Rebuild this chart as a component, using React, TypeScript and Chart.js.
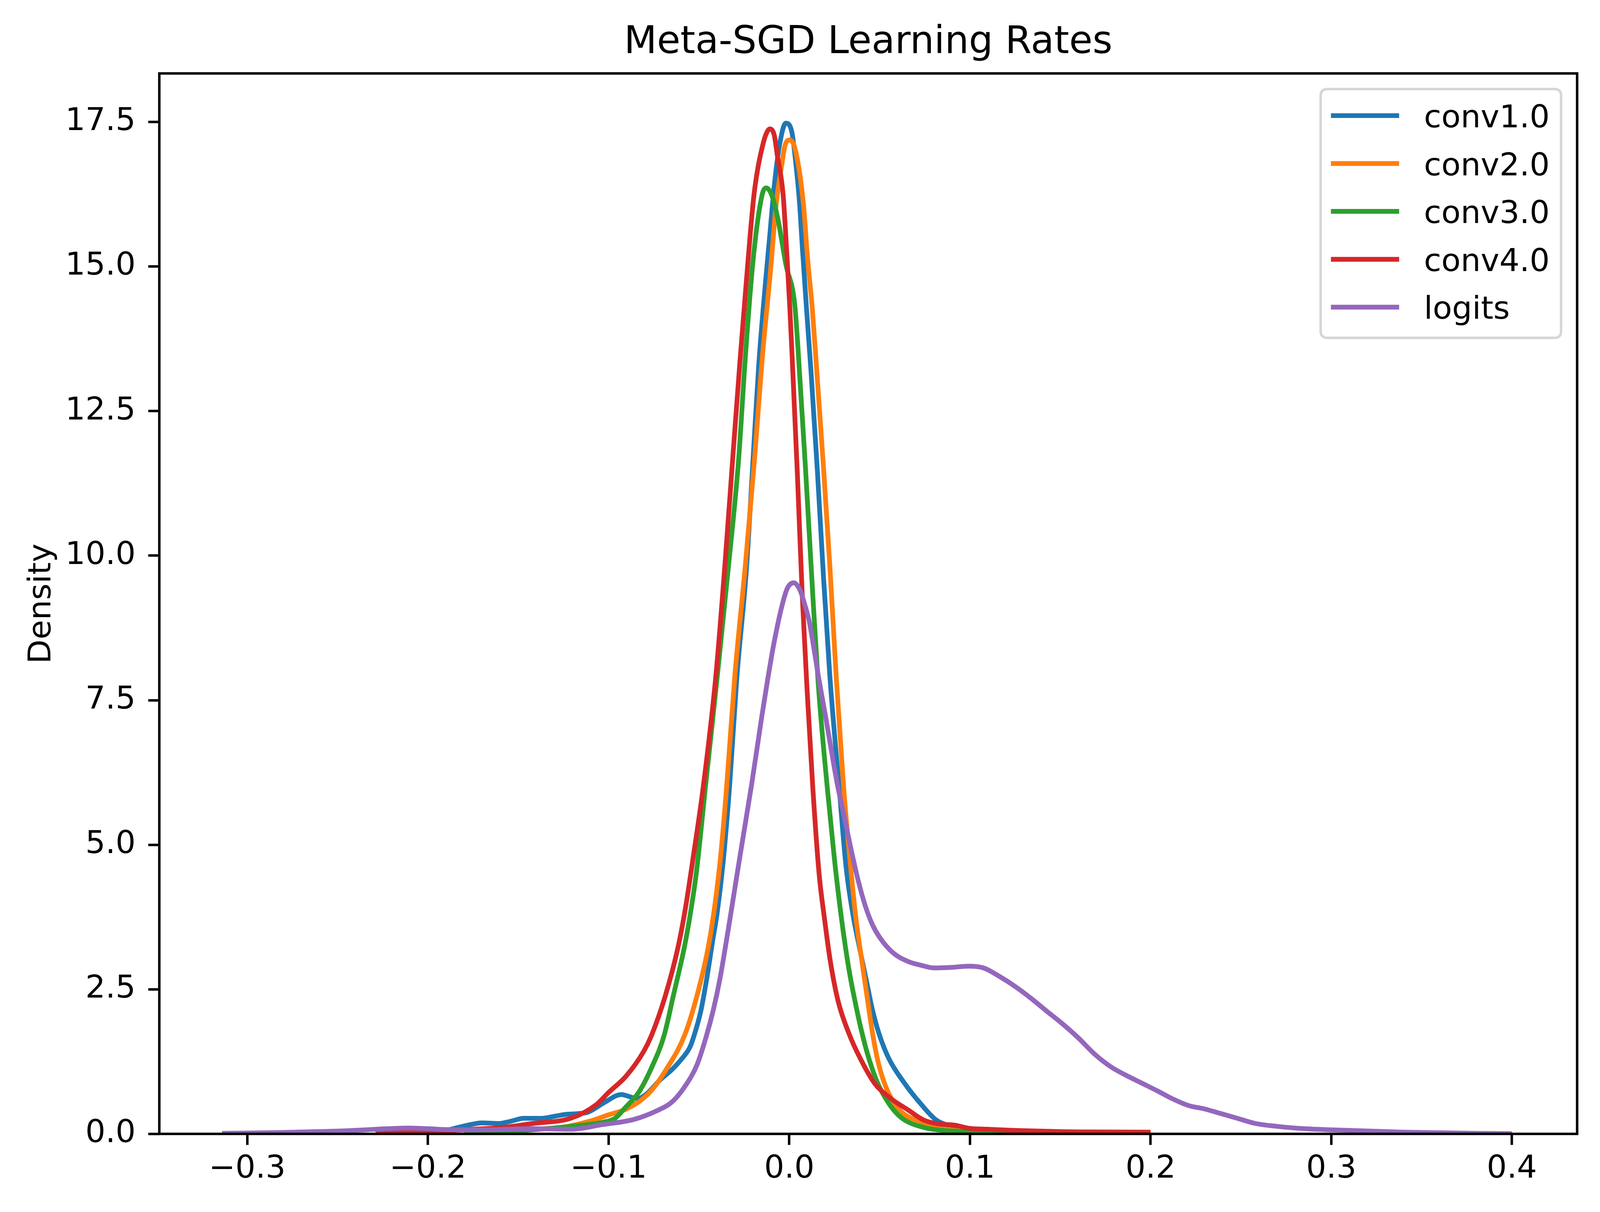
import React, { useEffect, useRef } from "react";
import { Chart, registerables } from "chart.js";

Chart.register(...registerables);

// series, [x, density] pairs
const seriesNames = ["conv1.0", "conv2.0", "conv3.0", "conv4.0", "logits"];
const seriesColors = ["#1f77b4", "#ff7f0e", "#2ca02c", "#d62728", "#9467bd"];

const conv1 = [
  [-0.195, 0.02], [-0.186, 0.09], [-0.178, 0.15], [-0.17, 0.19], [-0.161, 0.18], [-0.154, 0.22],
  [-0.147, 0.27], [-0.137, 0.27], [-0.129, 0.31], [-0.123, 0.34], [-0.112, 0.37], [-0.103, 0.53],
  [-0.093, 0.68], [-0.084, 0.61], [-0.079, 0.69], [-0.072, 0.92], [-0.065, 1.11], [-0.06, 1.28],
  [-0.055, 1.5], [-0.0527, 1.7], [-0.049, 2.12], [-0.0457, 2.68], [-0.0422, 3.38], [-0.04, 3.8],
  [-0.0366, 4.7], [-0.033, 6.03], [-0.029, 7.9], [-0.0237, 9.77], [-0.0201, 11.64], [-0.0169, 13.3],
  [-0.0131, 14.75], [-0.0109, 15.5], [-0.0083, 16.4], [-0.005, 17.17], [-0.0019, 17.48], [0.0014, 17.33],
  [0.0035, 16.82], [0.0057, 16.09], [0.0073, 15.3], [0.0095, 14.29], [0.012, 13.2], [0.0155, 11.5],
  [0.019, 9.6], [0.0225, 7.9], [0.0275, 6.03], [0.0315, 4.6], [0.0352, 3.8], [0.039, 3.2],
  [0.0427, 2.65], [0.046, 2.15], [0.0497, 1.73], [0.055, 1.31], [0.0637, 0.88], [0.0725, 0.53],
  [0.0813, 0.24], [0.09, 0.13], [0.099, 0.06], [0.111, 0.03], [0.125, 0.01],
];

const conv2 = [
  [-0.18, 0.01], [-0.16, 0.03], [-0.147, 0.06], [-0.135, 0.09], [-0.1244, 0.12], [-0.1104, 0.22],
  [-0.1, 0.33], [-0.0895, 0.44], [-0.0772, 0.72], [-0.0676, 1.14], [-0.058, 1.7], [-0.051, 2.4],
  [-0.0448, 3.24], [-0.041, 4.0], [-0.038, 4.8], [-0.0346, 6.03], [-0.0302, 7.9], [-0.0245, 9.77],
  [-0.0193, 11.64], [-0.015, 13.4], [-0.0105, 14.89], [-0.0072, 16.09], [-0.004, 16.79], [-0.0024, 17.09],
  [0.0002, 17.19], [0.0035, 17.0], [0.0078, 16.09], [0.01, 15.19], [0.0127, 14.29], [0.015, 13.3],
  [0.019, 11.5], [0.0225, 9.8], [0.026, 7.9], [0.03, 6.03], [0.034, 4.6], [0.037, 3.7],
  [0.0401, 3.01], [0.0427, 2.45], [0.0462, 1.72], [0.0489, 1.28], [0.0524, 0.9], [0.0567, 0.6],
  [0.062, 0.38], [0.0725, 0.21], [0.083, 0.1], [0.0988, 0.04], [0.115, 0.01],
];

const conv3 = [
  [-0.18, 0.01], [-0.165, 0.03], [-0.147, 0.06], [-0.121, 0.13], [-0.1034, 0.2], [-0.0964, 0.27],
  [-0.0912, 0.44], [-0.0833, 0.72], [-0.0763, 1.14], [-0.0693, 1.7], [-0.0641, 2.4], [-0.058, 3.24],
  [-0.0548, 3.8], [-0.0515, 4.5], [-0.0463, 6.03], [-0.0399, 7.9], [-0.0338, 9.77], [-0.0281, 11.64],
  [-0.0245, 13.35], [-0.0207, 14.89], [-0.0185, 15.55], [-0.0165, 16.0], [-0.0145, 16.3], [-0.0127, 16.36],
  [-0.0094, 16.21], [-0.0061, 15.79], [-0.0019, 15.04], [0.003, 14.35], [0.0048, 13.6], [0.009, 11.5],
  [0.0125, 9.6], [0.016, 7.8], [0.021, 6.0], [0.025, 4.75], [0.029, 3.7], [0.033, 2.85],
  [0.037, 2.2], [0.041, 1.65], [0.0445, 1.26], [0.0489, 0.88], [0.055, 0.53], [0.0602, 0.33],
  [0.0655, 0.21], [0.076, 0.1], [0.09, 0.05], [0.1075, 0.03], [0.12, 0.01],
];

const conv4 = [
  [-0.229, 0.01], [-0.215, 0.03], [-0.2, 0.03], [-0.191, 0.05], [-0.175, 0.08], [-0.159, 0.11],
  [-0.142, 0.18], [-0.121, 0.27], [-0.107, 0.5], [-0.0999, 0.72], [-0.0903, 1.0], [-0.0807, 1.42],
  [-0.0763, 1.7], [-0.0685, 2.4], [-0.0615, 3.24], [-0.0575, 3.9], [-0.0532, 4.78], [-0.0475, 6.03],
  [-0.0407, 7.9], [-0.0358, 9.77], [-0.0314, 11.64], [-0.0272, 13.4], [-0.024, 14.65], [-0.0215, 15.6],
  [-0.0195, 16.25], [-0.0174, 16.7], [-0.0153, 17.02], [-0.0131, 17.27], [-0.0108, 17.38], [-0.0083, 17.27],
  [-0.0067, 16.94], [-0.0034, 16.24], [-0.0013, 15.19], [0.0003, 14.29], [0.0015, 13.5], [0.0045, 11.4],
  [0.0072, 9.3], [0.01, 7.6], [0.013, 6.0], [0.0165, 4.5], [0.0195, 3.72], [0.0226, 3.01],
  [0.027, 2.3], [0.0331, 1.73], [0.0392, 1.31], [0.0471, 0.88], [0.0567, 0.6], [0.0655, 0.42],
  [0.0743, 0.24], [0.083, 0.17], [0.0918, 0.15], [0.0988, 0.1], [0.11, 0.08], [0.125, 0.06],
  [0.16, 0.035], [0.2, 0.03],
];

const logits = [
  [-0.314, 0.01], [-0.3, 0.015], [-0.28, 0.025], [-0.26, 0.04], [-0.2485, 0.05], [-0.235, 0.07],
  [-0.222, 0.09], [-0.211, 0.1], [-0.2, 0.09], [-0.19, 0.075], [-0.1826, 0.07], [-0.17, 0.07],
  [-0.156, 0.08], [-0.142, 0.09], [-0.121, 0.08], [-0.1035, 0.16], [-0.086, 0.25], [-0.074, 0.39],
  [-0.065, 0.55], [-0.058, 0.81], [-0.051, 1.2], [-0.046, 1.68], [-0.042, 2.15], [-0.0385, 2.66],
  [-0.035, 3.3], [-0.0322, 3.84], [-0.0273, 4.8], [-0.0209, 6.03], [-0.0152, 7.22], [-0.012, 7.85],
  [-0.0084, 8.5], [-0.0039, 9.15], [-0.001, 9.44], [0.0025, 9.53], [0.006, 9.4], [0.0086, 9.15],
  [0.011, 8.87], [0.013, 8.52], [0.0162, 7.9], [0.0198, 7.27], [0.0267, 6.03], [0.03, 5.55],
  [0.034, 4.95], [0.038, 4.4], [0.042, 3.95], [0.046, 3.62], [0.05, 3.4], [0.0575, 3.13],
  [0.0659, 2.98], [0.0725, 2.92], [0.08, 2.87], [0.09, 2.88], [0.099, 2.9], [0.1075, 2.87],
  [0.116, 2.73], [0.125, 2.55], [0.134, 2.34], [0.1426, 2.12], [0.151, 1.91], [0.16, 1.66],
  [0.169, 1.38], [0.178, 1.16], [0.186, 1.02], [0.195, 0.88], [0.204, 0.74], [0.2126, 0.6],
  [0.221, 0.49], [0.23, 0.43], [0.239, 0.35], [0.248, 0.27], [0.258, 0.18], [0.27, 0.13],
  [0.285, 0.09], [0.3, 0.07], [0.32, 0.05], [0.34, 0.03], [0.36, 0.02], [0.38, 0.01], [0.4, 0.005],
];

const xTicks = [-0.3, -0.2, -0.1, 0.0, 0.1, 0.2, 0.3, 0.4];
const xTickLabels = ["\u22120.3", "\u22120.2", "\u22120.1", "0.0", "0.1", "0.2", "0.3", "0.4"];
const yTicks = [0, 2.5, 5, 7.5, 10, 12.5, 15, 17.5];
const yTickLabels = ["0.0", "2.5", "5.0", "7.5", "10.0", "12.5", "15.0", "17.5"];

const X_MIN = -0.3487;
const X_MAX = 0.4361;
const Y_MAX = 18.34;

// reference canvas size; everything below is laid out in these units
const W = 4198;
const H = 3103;
const FONT = "'DejaVu Sans', sans-serif";

function roundRect(ctx: CanvasRenderingContext2D, x: number, y: number, w: number, h: number, r: number) {
  ctx.beginPath();
  ctx.moveTo(x + r, y);
  ctx.lineTo(x + w - r, y);
  ctx.quadraticCurveTo(x + w, y, x + w, y + r);
  ctx.lineTo(x + w, y + h - r);
  ctx.quadraticCurveTo(x + w, y + h, x + w - r, y + h);
  ctx.lineTo(x + r, y + h);
  ctx.quadraticCurveTo(x, y + h, x, y + h - r);
  ctx.lineTo(x, y + r);
  ctx.quadraticCurveTo(x, y, x + r, y);
  ctx.closePath();
}

export default function App() {
  const canvasRef = useRef<HTMLCanvasElement>(null);

  useEffect(() => {
    document.body.style.margin = "0";
    document.body.style.overflow = "hidden";
    const canvas = canvasRef.current;
    if (!canvas) return;

    // fit the viewport exactly (the window may have a non-1 pixel ratio)
    const vw = window.innerWidth;
    const vh = window.innerHeight;
    const s = vw / W;
    const sy = vh / H;
    canvas.width = vw;
    canvas.height = vh;
    canvas.style.width = vw + "px";
    canvas.style.height = vh + "px";

    const LW = 12.5 * s;
    const SPINE = 6.5 * s;
    const fontPx = 83 * s;

    // spines, title, y label and the framed legend, matplotlib-style
    const decorPlugin = {
      id: "decor",
      afterDatasetsDraw(chart: any) {
        const { ctx, chartArea: a } = chart;
        ctx.save();

        ctx.strokeStyle = "#000";
        ctx.lineWidth = SPINE;
        ctx.lineJoin = "miter";
        ctx.strokeRect(a.left, a.top, a.right - a.left, a.bottom - a.top);

        ctx.fillStyle = "#000";
        ctx.font = `${100 * s}px ${FONT}`;
        ctx.textAlign = "center";
        ctx.textBaseline = "alphabetic";
        ctx.fillText("Meta-SGD Learning Rates", (a.left + a.right) / 2, a.top - 52 * sy);

        ctx.save();
        ctx.translate(132 * s, (a.top + a.bottom) / 2);
        ctx.rotate(-Math.PI / 2);
        ctx.font = `${fontPx}px ${FONT}`;
        ctx.fillText("Density", 0, 0);
        ctx.restore();

        const bx = a.right - 673 * s;
        const by = a.top + 40 * sy;
        roundRect(ctx, bx, by, 631 * s, 637 * sy, 18 * s);
        ctx.fillStyle = "rgba(255,255,255,0.8)";
        ctx.fill();
        ctx.strokeStyle = "#d6d6d6";
        ctx.lineWidth = SPINE;
        ctx.stroke();

        ctx.font = `${fontPx}px ${FONT}`;
        ctx.textAlign = "left";
        seriesNames.forEach((name, i) => {
          const ry = by + (68 + i * 122.6) * sy;
          ctx.strokeStyle = seriesColors[i];
          ctx.lineWidth = LW;
          ctx.lineCap = "butt";
          ctx.beginPath();
          ctx.moveTo(bx + 27 * s, ry);
          ctx.lineTo(bx + 206 * s, ry);
          ctx.stroke();
          ctx.fillStyle = "#000";
          ctx.fillText(name, bx + 271 * s, ry + 30 * sy);
        });

        ctx.restore();
      },
    };

    const all = [conv1, conv2, conv3, conv4, logits];
    const datasets = all.map((pts, i) => ({
      label: seriesNames[i],
      data: pts.map(([x, y]) => ({ x, y })),
      borderColor: seriesColors[i],
      backgroundColor: seriesColors[i],
      borderWidth: LW,
      pointRadius: 0,
      fill: false,
      cubicInterpolationMode: "monotone" as const,
      borderJoinStyle: "round" as const,
      order: all.length - i,
    }));

    const tickFont = { family: FONT, size: fontPx };
    const gridCfg = {
      display: true,
      drawOnChartArea: false,
      drawTicks: true,
      tickLength: 29 * s,
      tickWidth: SPINE,
      tickColor: "#000",
      lineWidth: SPINE,
      color: "#000",
    };

    const chart = new Chart(canvas, {
      type: "line",
      data: { datasets },
      options: {
        responsive: false,
        animation: false,
        layout: { padding: { top: 188 * sy, right: 60 * s, left: 0, bottom: 0 } },
        plugins: {
          legend: { display: false },
          tooltip: { enabled: false },
          title: { display: false },
        },
        scales: {
          x: {
            type: "linear",
            min: X_MIN,
            max: X_MAX,
            afterBuildTicks: (sc: any) => {
              sc.ticks = xTicks.map((value) => ({ value }));
            },
            afterFit: (sc: any) => {
              sc.height = (H - 2903) * sy;
            },
            border: { display: false },
            grid: gridCfg,
            ticks: {
              font: tickFont,
              color: "#000",
              padding: 14 * s,
              maxRotation: 0,
              autoSkip: false,
              callback: (_v: any, i: number) => xTickLabels[i],
            },
          },
          y: {
            type: "linear",
            min: 0,
            max: Y_MAX,
            afterBuildTicks: (sc: any) => {
              sc.ticks = yTicks.map((value) => ({ value }));
            },
            afterFit: (sc: any) => {
              sc.width = 418 * s;
            },
            border: { display: false },
            grid: gridCfg,
            ticks: {
              font: tickFont,
              color: "#000",
              padding: 33 * s,
              autoSkip: false,
              callback: (_v: any, i: number) => yTickLabels[i],
            },
          },
        },
      },
      plugins: [decorPlugin],
    });

    return () => chart.destroy();
  }, []);

  return (
    <div style={{ position: "fixed", left: 0, top: 0, width: "100vw", height: "100vh", overflow: "hidden", background: "#fff" }}>
      <canvas ref={canvasRef} style={{ display: "block" }} />
    </div>
  );
}
